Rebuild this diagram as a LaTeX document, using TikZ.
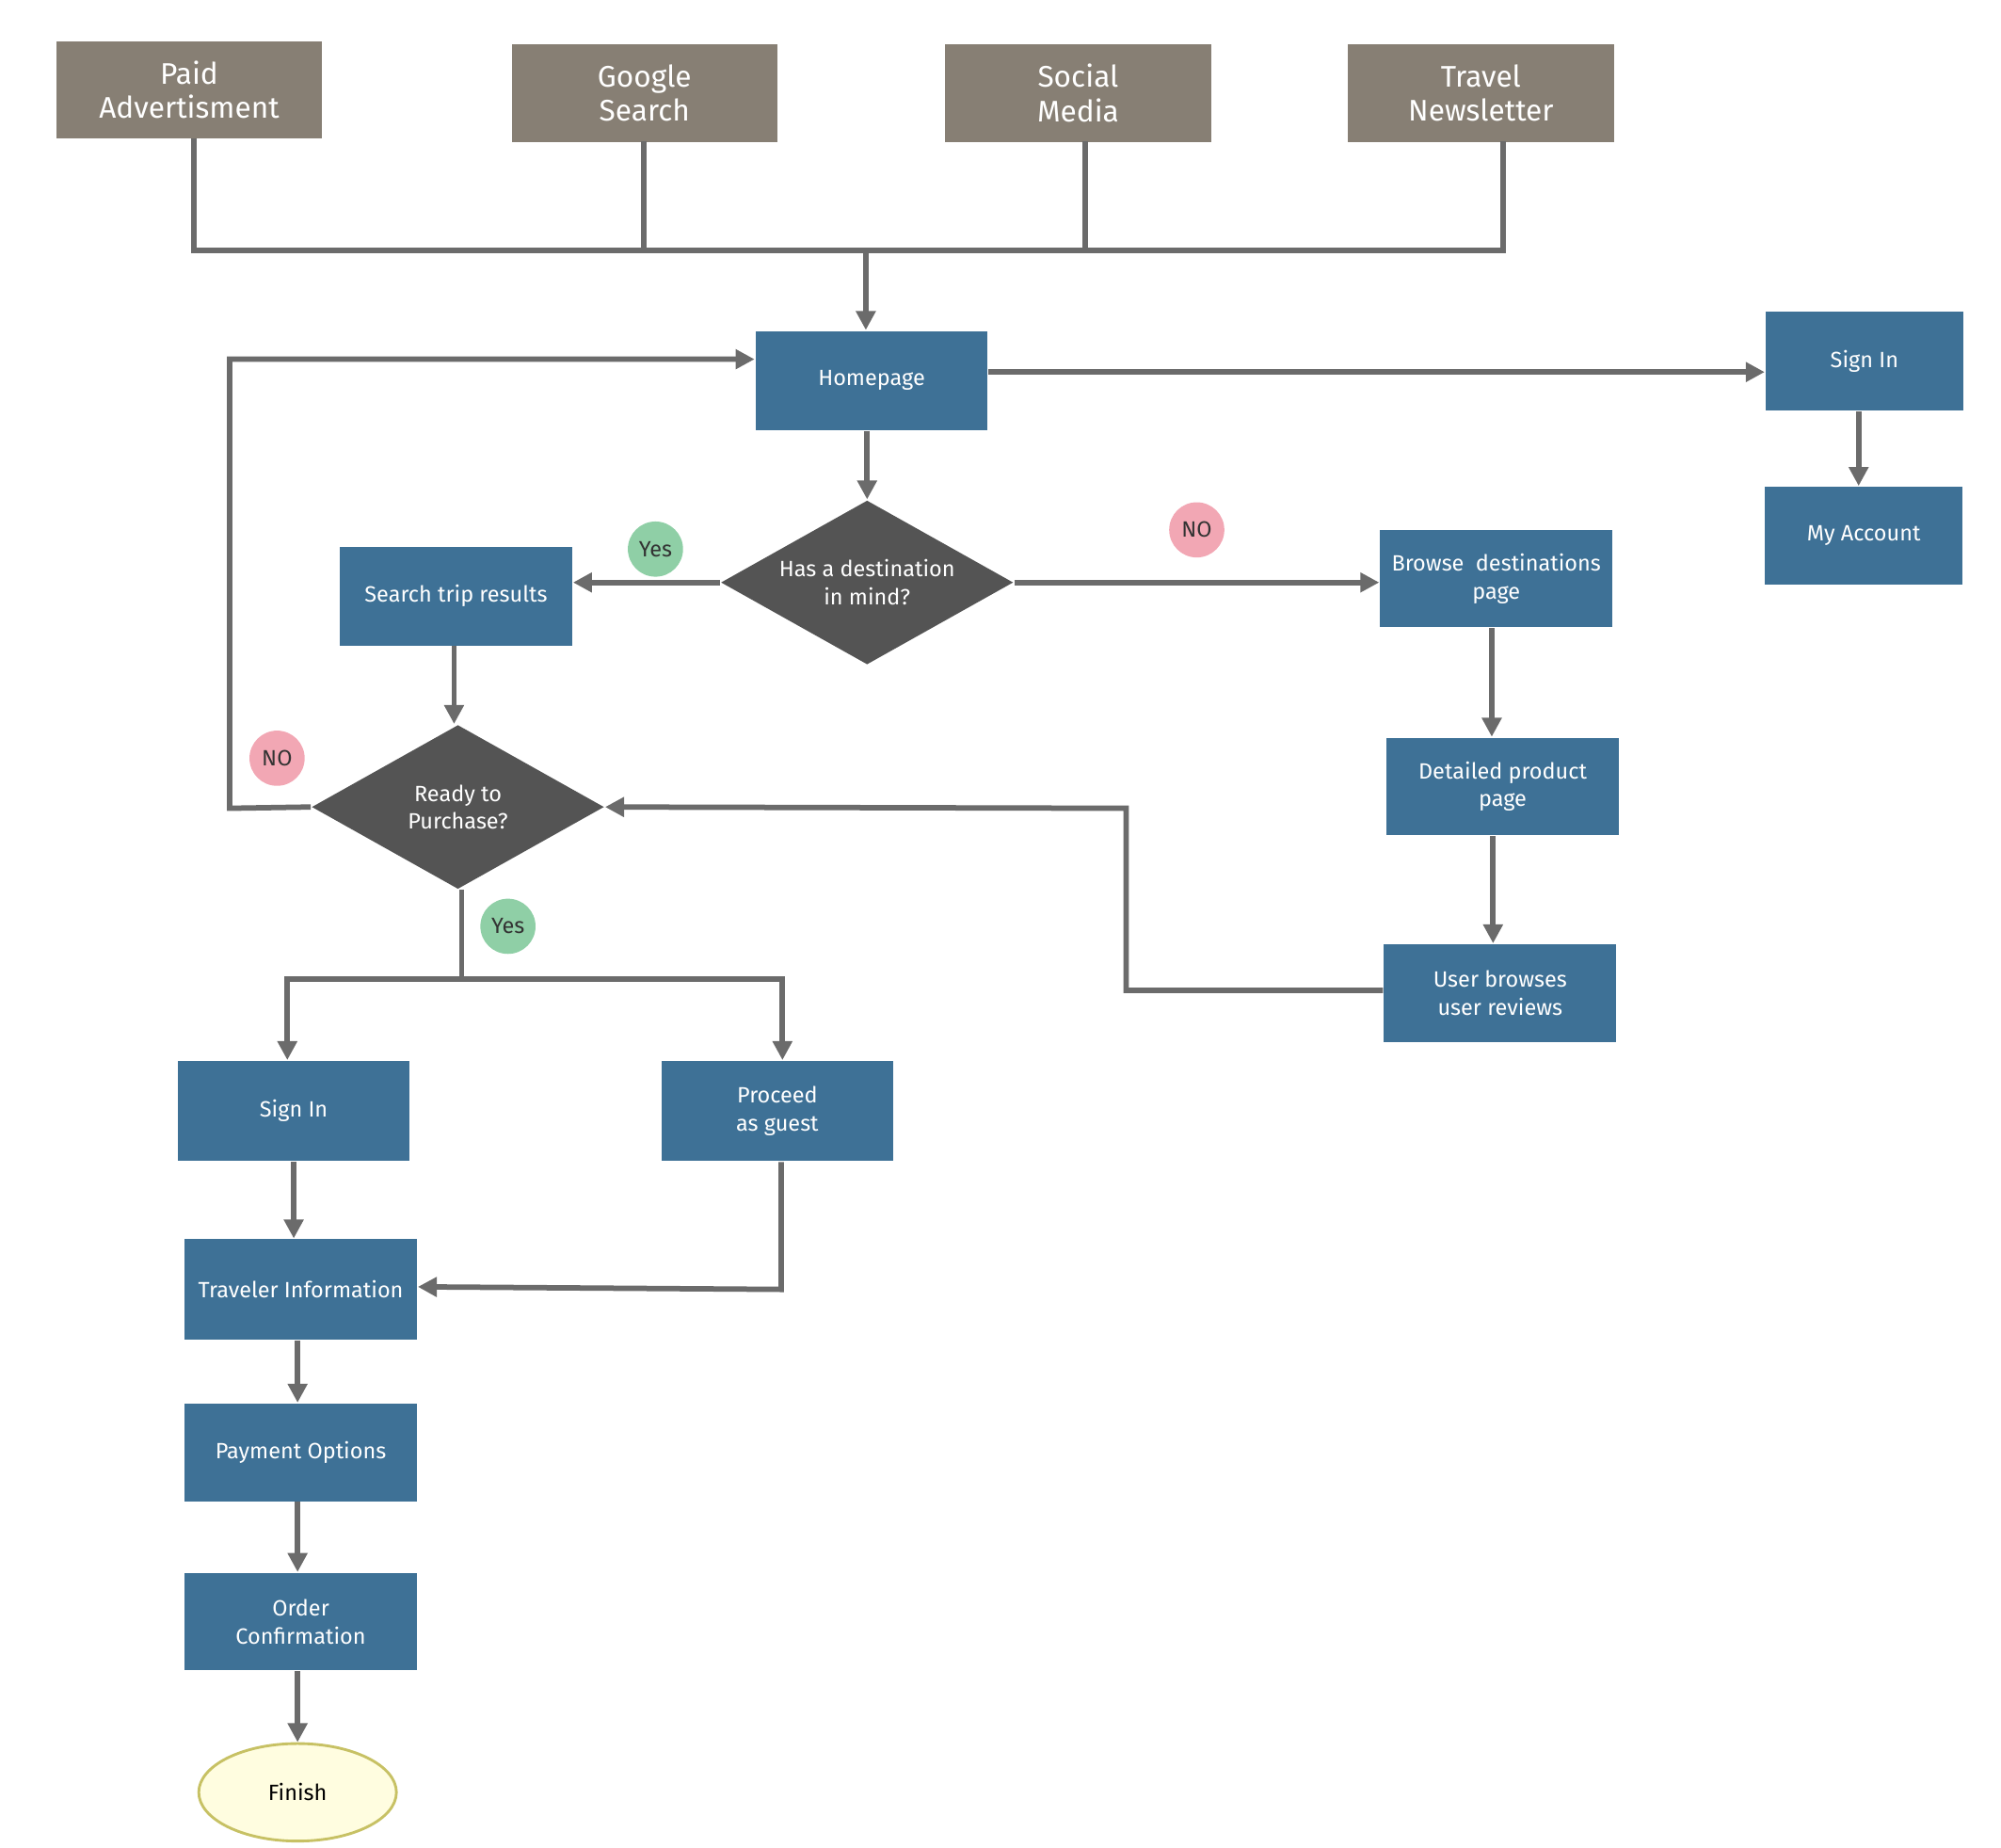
\documentclass[tikz,border=0pt]{standalone}
\usepackage{fontspec}
\setmainfont{Fira Sans}
\usetikzlibrary{arrows.meta,shapes.geometric}
\definecolor{src}{HTML}{877F74}
\definecolor{blu}{HTML}{3E7196}
\definecolor{dia}{HTML}{545454}
\definecolor{ln}{HTML}{6B6B6B}
\definecolor{yesc}{HTML}{8FCFA6}
\definecolor{noc}{HTML}{F2A7B4}
\begin{document}
\begin{tikzpicture}[x=0.01cm,y=-0.01cm,
  srcbox/.style={fill=src,text=white,minimum width=2.07cm,minimum height=0.76cm,align=center,font=\fontsize{6.6}{7.6}\selectfont,inner sep=0pt},
  bbox/.style={fill=blu,text=white,minimum width=1.81cm,minimum height=0.77cm,align=center,font=\fontsize{4.9}{6.2}\selectfont,inner sep=0pt},
  dbox/.style={diamond,fill=dia,text=white,minimum width=2.28cm,minimum height=1.28cm,aspect=1.78,align=center,font=\fontsize{4.9}{6.2}\selectfont,inner sep=0pt},
  badge/.style={circle,minimum size=0.43cm,inner sep=0pt,text=black!80,font=\fontsize{4.9}{6}\selectfont},
  conn/.style={draw=ln,line width=1.2pt},
  arr/.style={conn,-{Triangle[length=4.2pt,width=4.2pt]}}]
\useasboundingbox (0,0) rectangle (1560,1440);
\node[srcbox] (pa) at (147.5,70) {Paid\\Advertisment};
\node[srcbox] (gs) at (502.5,72.5) {Google\\Search};
\node[srcbox] (sm) at (840.5,72.5) {Social\\Media};
\node[srcbox] (tn) at (1154.5,72.5) {Travel\\Newsletter};
\coordinate (j) at (675,195);
\draw[conn] (151,108) -- (151,195) -- (1172,195) -- (1172,110);
\draw[conn] (502,110) -- (502,195);
\draw[conn] (846,110) -- (846,195);
\node[bbox] (home) at (679.5,296.5) {Homepage};
\draw[arr] (j) -- (home.north -| j);
\node[bbox,minimum width=1.54cm] (si1) at (1453.5,281.5) {Sign In};
\node[bbox,minimum width=1.54cm,minimum height=0.76cm] (ma) at (1453,417.5) {My Account};
\draw[arr] (home.east |- 0,290) -- (si1.west |- 0,290);
\draw[arr] (si1.south -| 1449,0) -- (ma.north -| 1449,0);
\node[dbox] (d1) at (676,454) {Has a destination\\in mind?};
\draw[arr] (home.south -| d1) -- (d1.north);
\node[bbox] (str) at (355.5,464.5) {Search trip results};
\draw[arr] (d1.west) -- (str.east |- d1.west);
\node[badge,fill=yesc] (y1) at (511,428) {Yes};
\node[badge,fill=noc] (n1) at (933,413) {NO};
\node[bbox,minimum height=0.76cm] (bd) at (1166.5,451) {Browse\ \ destinations\\page};
\draw[arr] (d1.east) -- (bd.west |- d1.east);
\node[bbox,minimum height=0.76cm] (dp) at (1171.5,613) {Detailed product\\page};
\draw[arr] (bd.south -| 1163,0) -- (dp.north -| 1163,0);
\node[bbox,minimum height=0.76cm] (ur) at (1169.5,774) {User browses\\user reviews};
\draw[arr] (dp.south -| 1164,0) -- (ur.north -| 1164,0);
\node[dbox] (d2) at (357,629) {Ready to\\Purchase?};
\draw[arr] (str.south -| 354,0) -- (d2.north -| 354,0);
\draw[arr] (ur.west |- 0,772) -- (878,772) -- (878,630) -- (d2.east);
\draw[arr] (d2.west) -- (179,630) -- (179,280) -- (home.west |- 0,280);
\node[badge,fill=noc] (n2) at (216,591) {NO};
\node[badge,fill=yesc] (y2) at (396,722) {Yes};
\node[bbox,minimum width=1.8cm,minimum height=0.78cm] (si2) at (229,866) {Sign In};
\node[bbox,minimum width=1.8cm,minimum height=0.78cm] (pg) at (606,866) {Proceed\\as guest};
\coordinate (s) at (360,763);
\draw[conn] (d2.south -| s) -- (s);
\draw[arr] (s) -- (224,763) -- (si2.north -| 224,0);
\draw[arr] (s) -- (610,763) -- (pg.north -| 610,0);
\node[bbox,minimum height=0.78cm] (ti) at (234.5,1005) {Traveler Information};
\draw[arr] (si2.south -| 229,0) -- (ti.north -| 229,0);
\draw[arr] (pg.south -| 609,0) -- (609,1005) -- (ti.east |- 0,1003);
\node[bbox,minimum height=0.76cm] (po) at (234.5,1132) {Payment Options};
\draw[arr] (ti.south -| 232,0) -- (po.north -| 232,0);
\node[bbox,minimum height=0.76cm] (oc) at (234.5,1264) {Order\\Confirmation};
\draw[arr] (po.south -| 232,0) -- (oc.north -| 232,0);
\node[ellipse,fill=yellow!12!white,draw=olive!50,line width=0.6pt,minimum width=1.54cm,minimum height=0.76cm,font=\fontsize{4.9}{6}\selectfont] (fin) at (232,1397) {Finish};
\draw[arr] (oc.south -| 232,0) -- (fin.north);
\end{tikzpicture}
\end{document}
